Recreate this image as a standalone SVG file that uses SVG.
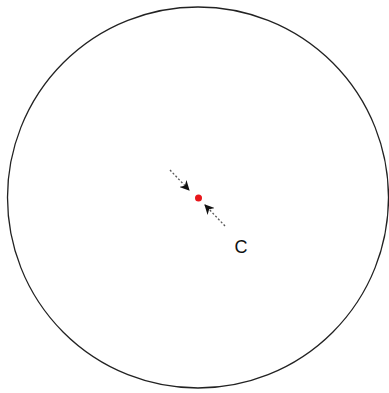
<svg xmlns="http://www.w3.org/2000/svg" width="389" height="393" viewBox="0 0 389 393">
<defs>
<style>
.conn{stroke:#555;stroke-width:1.3;stroke-dasharray:2 2;fill:none}
.lbl{font-family:"Liberation Sans",Arial,sans-serif;font-size:18px;fill:#111}
</style>
<marker id="ah" viewBox="0 0 10 10" refX="9" refY="5" markerWidth="10" markerHeight="10" markerUnits="userSpaceOnUse" orient="auto">
<path d="M0,0 L10,5 L0,10 L3,5 Z" fill="#111"/>
</marker>
</defs>
<rect width="389" height="393" fill="#fff"/>
<g id="boundary"><circle cx="198" cy="197.5" r="190.5" fill="none" stroke="#222" stroke-width="1.3"/></g>
<g id="connectors">
<line class="conn" x1="170" y1="170" x2="189" y2="190" marker-end="url(#ah)"/>
<line class="conn" x1="225" y1="226" x2="205" y2="205" marker-end="url(#ah)"/>
</g>
<g id="center"><circle cx="198.5" cy="198" r="3.5" fill="#e8161b"/></g>
<g id="label-c"><text class="lbl" x="241" y="253" text-anchor="middle">C</text></g>
</svg>
